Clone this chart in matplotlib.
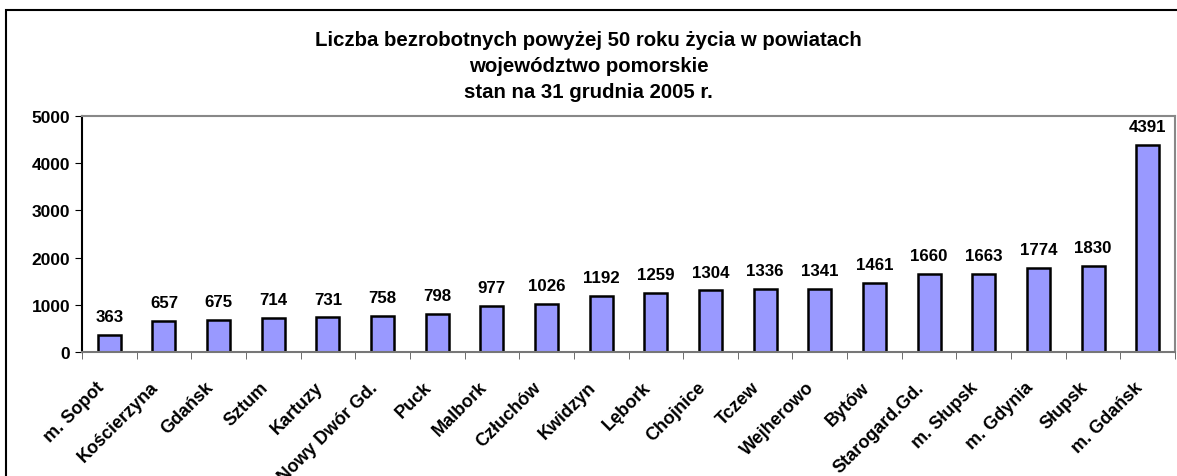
import matplotlib.pyplot as plt
import matplotlib.transforms as mtrans
import numpy as np
from matplotlib.patches import Rectangle

plt.rcParams['font.family'] = ['Liberation Sans', 'DejaVu Sans']
plt.rcParams['font.weight'] = 'bold'

# powiaty i liczba bezrobotnych 50+
powiaty = ['m. Sopot', 'Kościerzyna', 'Gdańsk', 'Sztum', 'Kartuzy', 'Nowy Dwór Gd.',
           'Puck', 'Malbork', 'Człuchów', 'Kwidzyn', 'Lębork', 'Chojnice', 'Tczew',
           'Wejherowo', 'Bytów', 'Starogard.Gd.', 'm. Słupsk', 'm. Gdynia', 'Słupsk',
           'm. Gdańsk']
bezrobotni = [363, 657, 675, 714, 731, 758, 798, 977, 1026, 1192, 1259, 1304, 1336,
              1341, 1461, 1660, 1663, 1774, 1830, 4391]

fig = plt.figure(figsize=(11.77, 4.77), dpi=100)
ax = fig.add_axes([82/1177, 1-353/477, (1175-82)/1177, (353-117)/477])

x = np.arange(len(powiaty))
ax.bar(x, bezrobotni, width=0.42, color='#9999FF', edgecolor='black', linewidth=1.8)
for xi, v in zip(x, bezrobotni):
    ax.text(xi, v + 230, str(v), ha='center', va='bottom', fontsize=12.2, fontweight='bold')

ax.set_xlim(-0.5, len(powiaty) - 0.5)
ax.set_ylim(0, 5000)
ax.set_yticks(np.arange(0, 5001, 1000))
ax.set_xticks(x)
ax.set_xticklabels(powiaty, rotation=45, ha='right', rotation_mode='anchor', fontsize=13)
ax.set_xticks(np.arange(-0.5, len(powiaty), 1), minor=True)
ax.tick_params(axis='x', which='major', length=0, pad=19)
ax.tick_params(axis='x', which='minor', length=5, color='#555555')
ax.tick_params(axis='y', length=5, labelsize=12.5)
shift = mtrans.ScaledTranslation(-10/72, 0, fig.dpi_scale_trans)
for lab in ax.get_xticklabels():
    lab.set_transform(lab.get_transform() + shift)

ax.spines['left'].set_color('black')
ax.spines['bottom'].set_color('#777777')
ax.spines['top'].set_color('#888888')
ax.spines['right'].set_color('#888888')
for s in ax.spines.values():
    s.set_linewidth(1.5)

fig.text(0.5, 1-40/477, 'Liczba bezrobotnych powyżej 50 roku życia w powiatach', ha='center', va='center', fontsize=14.7, fontweight='bold')
fig.text(0.5, 1-66/477, 'województwo pomorskie', ha='center', va='center', fontsize=14.7, fontweight='bold')
fig.text(0.5, 1-92/477, 'stan na 31 grudnia 2005 r.', ha='center', va='center', fontsize=14.7, fontweight='bold')

# ramka wykresu
fig.patches.append(Rectangle((6/1177, -0.1), 1.2, 1-11/477 + 0.1, transform=fig.transFigure,
                             fill=False, edgecolor='black', linewidth=1.5))

plt.savefig('out.png', dpi=100)
